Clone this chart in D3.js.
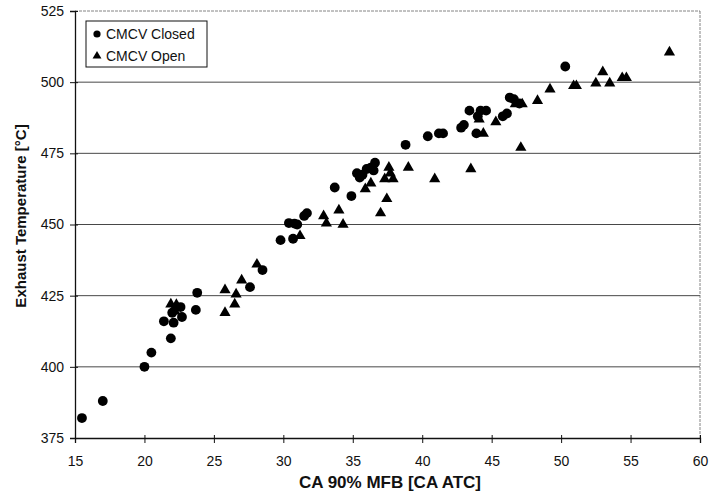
<!DOCTYPE html>
<html>
<head>
<meta charset="utf-8">
<script src="https://cdn.jsdelivr.net/npm/d3@7"></script>
<style>
  body { margin: 0; background: #fff; }
  svg text { font-family: "Liberation Sans", Arial, sans-serif; fill: #111; }
</style>
</head>
<body>
<div id="chart"></div>
<script>
// CMCV closed (circles): [CA 90% MFB, exhaust temp]
var closedPts = [
  [15.5,382],[17.0,388],[20.0,400],[20.5,405],[21.4,416],[21.9,410],[22.1,415.5],
  [22.0,419],[22.7,417.5],[22.6,421],[23.7,420],[23.8,426],[27.6,428],[28.5,434],
  [29.8,444.5],[30.7,445],[30.4,450.5],[30.8,450.3],[31.0,450],[31.5,453],[31.7,454],
  [33.7,463],[34.9,460],[35.3,468],[35.5,466.5],[35.7,467.5],[36.0,469.5],[36.3,470],
  [36.6,471.7],[36.5,469],[38.8,478],[40.4,481],[41.2,482],[41.5,482],[42.8,484],
  [43.0,485],[43.4,490],[44.0,488],[43.9,482],[44.2,490],[44.6,490],[45.8,488],
  [46.1,489],[46.3,494.6],[46.6,494],[47.0,492.5],[50.3,505.5]
];
// CMCV open (triangles)
var openPts = [
  [21.9,422],[22.3,421.8],[22.2,419.5],[25.8,427],[25.8,419],[26.6,425.5],[26.5,422],
  [27.0,430.4],[28.1,436],[31.2,446],[32.9,453],[33.1,450.4],[34.0,455],[34.3,450],
  [35.9,462.5],[36.3,464.5],[37.0,454],[37.45,459],[37.3,466],[37.6,470],[37.7,468],
  [37.9,466],[39.0,470],[40.9,466],[43.5,469.5],[44.1,487],[44.4,482],[45.3,486],
  [46.7,492.3],[47.2,492.3],[47.1,477],[48.3,493.5],[49.2,497.5],[50.9,498.7],
  [51.1,498.7],[52.5,499.6],[53.0,503.6],[53.5,499.6],[54.4,501.5],[54.7,501.5],
  [57.8,510.5]
];
var xTicks = [15,20,25,30,35,40,45,50,55,60];
var yTicks = [375,400,425,450,475,500,525];
var seriesNames = ["CMCV Closed", "CMCV Open"];

(function() {
  var width = 710, height = 494;
  var pLeft = 75, pRight = 700, pTop = 11, pBottom = 438;

  var svg = d3.select("#chart").append("svg")
    .attr("width", width).attr("height", height);

  var x = d3.scaleLinear().domain([15, 60]).range([pLeft, pRight]);
  var y = d3.scaleLinear().domain([375, 525]).range([pBottom, pTop]);

  // gridlines
  svg.append("g").selectAll("line")
    .data(yTicks.filter(function(d){ return d > 375 && d < 525; }))
    .enter().append("line")
    .attr("x1", pLeft).attr("x2", pRight)
    .attr("y1", function(d){ return y(d); })
    .attr("y2", function(d){ return y(d); })
    .attr("stroke", "#333").attr("stroke-width", 0.9);

  // top and right frame (dotted in the scan)
  svg.append("line").attr("x1", pLeft).attr("x2", pRight).attr("y1", pTop).attr("y2", pTop)
    .attr("stroke", "#666").attr("stroke-width", 0.8).attr("stroke-dasharray", "3,1");
  svg.append("line").attr("x1", pRight).attr("x2", pRight).attr("y1", pTop).attr("y2", pBottom)
    .attr("stroke", "#666").attr("stroke-width", 0.8).attr("stroke-dasharray", "3,1");

  // axes
  var xAxis = d3.axisBottom(x).tickValues(xTicks).tickSize(5).tickPadding(13);
  var gx = svg.append("g").attr("transform", "translate(0," + pBottom + ")").call(xAxis);
  gx.select(".domain").attr("stroke", "#111").attr("stroke-width", 1.3);
  gx.selectAll(".tick line").attr("stroke", "#111").attr("y1", -3);
  gx.selectAll(".tick text").style("font-size", "14px").attr("fill", "#111");

  var yAxis = d3.axisLeft(y).tickValues(yTicks).tickSize(5).tickPadding(6);
  var gy = svg.append("g").attr("transform", "translate(" + pLeft + ",0)").call(yAxis);
  gy.select(".domain").attr("stroke", "#111").attr("stroke-width", 1.3);
  gy.selectAll(".tick line").attr("stroke", "#111").attr("x1", 3);
  gy.selectAll(".tick text").style("font-size", "14px").attr("fill", "#111");

  // axis titles
  svg.append("text")
    .attr("x", 390).attr("y", 488)
    .attr("text-anchor", "middle")
    .style("font-size", "17px").style("font-weight", "bold")
    .text("CA 90% MFB [CA ATC]");
  svg.append("text")
    .attr("transform", "translate(26,216) rotate(-90)")
    .attr("text-anchor", "middle")
    .style("font-size", "15px").style("font-weight", "bold")
    .text("Exhaust Temperature [°C]");

  var tri = d3.symbol().type(d3.symbolTriangle).size(54);

  // markers
  svg.append("g").selectAll("path")
    .data(openPts).enter().append("path")
    .attr("d", tri)
    .attr("transform", function(d){ return "translate(" + x(d[0]) + "," + y(d[1]) + ")"; })
    .attr("fill", "#000");

  svg.append("g").selectAll("circle")
    .data(closedPts).enter().append("circle")
    .attr("cx", function(d){ return x(d[0]); })
    .attr("cy", function(d){ return y(d[1]); })
    .attr("r", 4.9)
    .attr("fill", "#000");

  // legend
  var lg = svg.append("g").attr("transform", "translate(86,21)");
  lg.append("rect").attr("width", 121).attr("height", 46)
    .attr("fill", "#fff").attr("stroke", "#111").attr("stroke-width", 1);
  lg.append("circle").attr("cx", 11).attr("cy", 13).attr("r", 3.6).attr("fill", "#000");
  lg.append("path").attr("d", d3.symbol().type(d3.symbolTriangle).size(34))
    .attr("transform", "translate(11,35)").attr("fill", "#000");
  lg.selectAll("text.lab").data(seriesNames).enter().append("text")
    .attr("class", "lab")
    .attr("x", 20).attr("y", function(d, i){ return 13 + i * 22; })
    .attr("dy", "0.35em")
    .style("font-size", "14px")
    .text(function(d){ return d; });
})();
</script>
</body>
</html>
